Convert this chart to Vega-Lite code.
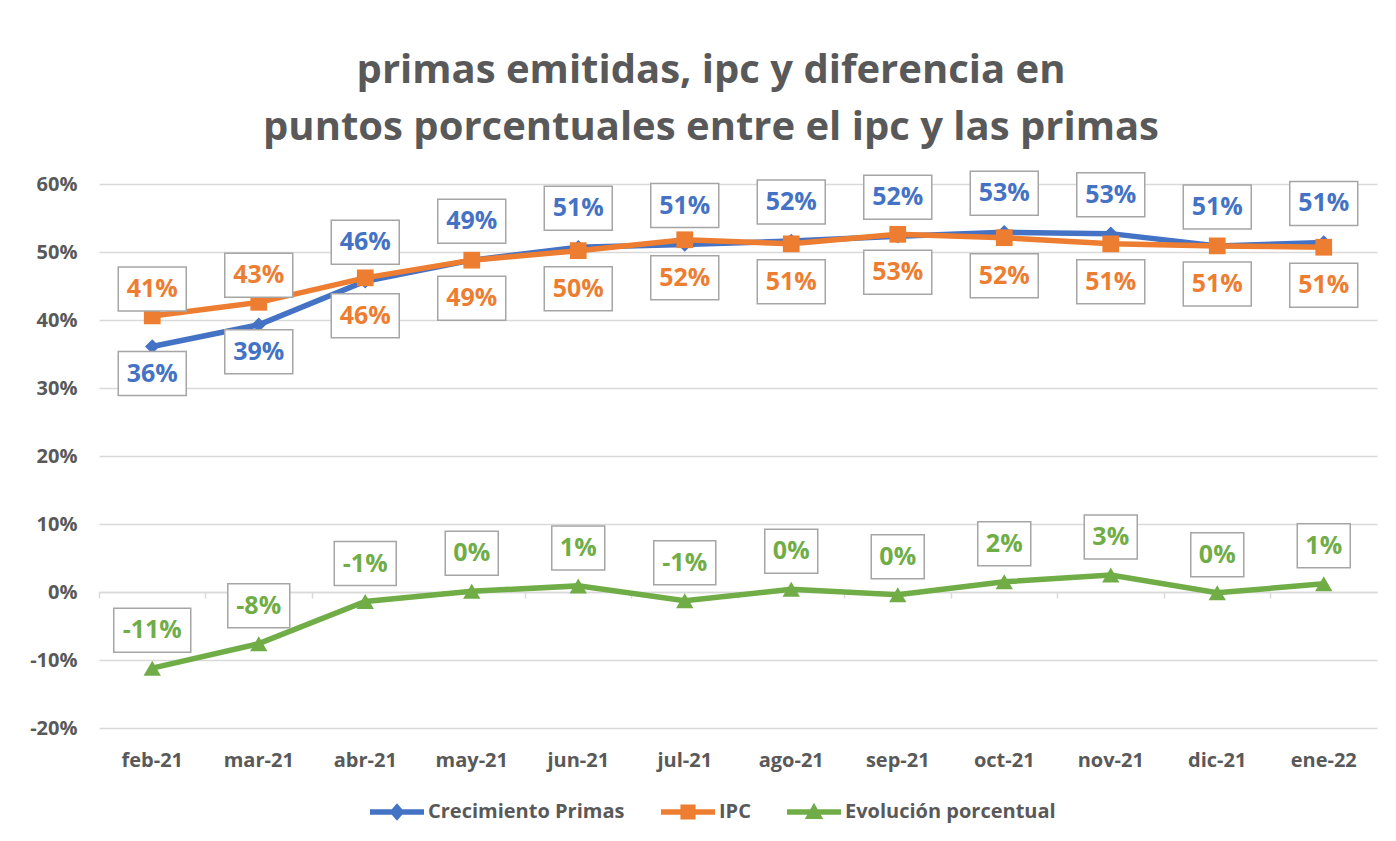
{
  "$schema": "https://vega.github.io/schema/vega-lite/v6.json",
  "width": 1278,
  "height": 544,
  "autosize": "none",
  "padding": {"left": 99, "top": 184, "right": 19, "bottom": 113},
  "background": "white",
  "config": {
    "view": {"stroke": null},
    "font": "Open Sans",
    "locale": {"number": {"decimal": ".", "thousands": ",", "grouping": [3], "currency": ["$", ""], "minus": "-"}}
  },
  "title": {
    "text": ["primas emitidas, ipc y diferencia en", "puntos porcentuales entre el ipc y las primas"],
    "font": "Open Sans",
    "fontSize": 40,
    "fontWeight": "bold",
    "color": "#595959",
    "anchor": "middle",
    "dx": -27,
    "lineHeight": 57,
    "offset": 20
  },
  "data": {
    "values": [
      {"mes": "feb-21", "Crecimiento Primas": 0.361, "IPC": 0.406, "Evolución porcentual": -0.112},
      {"mes": "mar-21", "Crecimiento Primas": 0.393, "IPC": 0.426, "Evolución porcentual": -0.076},
      {"mes": "abr-21", "Crecimiento Primas": 0.457, "IPC": 0.462, "Evolución porcentual": -0.014},
      {"mes": "may-21", "Crecimiento Primas": 0.488, "IPC": 0.488, "Evolución porcentual": 0.001},
      {"mes": "jun-21", "Crecimiento Primas": 0.507, "IPC": 0.502, "Evolución porcentual": 0.009},
      {"mes": "jul-21", "Crecimiento Primas": 0.511, "IPC": 0.518, "Evolución porcentual": -0.013},
      {"mes": "ago-21", "Crecimiento Primas": 0.516, "IPC": 0.512, "Evolución porcentual": 0.004},
      {"mes": "sep-21", "Crecimiento Primas": 0.523, "IPC": 0.526, "Evolución porcentual": -0.004},
      {"mes": "oct-21", "Crecimiento Primas": 0.529, "IPC": 0.521, "Evolución porcentual": 0.015},
      {"mes": "nov-21", "Crecimiento Primas": 0.527, "IPC": 0.512, "Evolución porcentual": 0.025},
      {"mes": "dic-21", "Crecimiento Primas": 0.509, "IPC": 0.509, "Evolución porcentual": -0.001},
      {"mes": "ene-22", "Crecimiento Primas": 0.514, "IPC": 0.507, "Evolución porcentual": 0.012}
    ]
  },
  "transform": [
    {"fold": ["Crecimiento Primas", "IPC", "Evolución porcentual"], "as": ["serie", "valor"]}
  ],
  "encoding": {
    "x": {
      "field": "mes",
      "type": "ordinal",
      "sort": ["feb-21", "mar-21", "abr-21", "may-21", "jun-21", "jul-21", "ago-21", "sep-21", "oct-21", "nov-21", "dic-21", "ene-22"],
      "scale": {"type": "band", "paddingInner": 0, "paddingOuter": 0},
      "axis": {
        "title": null,
        "labelAngle": 0,
        "labelFont": "Open Sans",
        "labelFontSize": 20,
        "labelFontWeight": "bold",
        "labelColor": "#595959",
        "grid": false,
        "domain": true,
        "domainColor": "#D9D9D9",
        "domainWidth": 1.5,
        "ticks": true,
        "tickColor": "#D9D9D9",
        "tickWidth": 1.5,
        "tickSize": 6,
        "bandPosition": 0,
        "offset": -136,
        "labelPadding": 152
      }
    },
    "y": {
      "field": "valor",
      "type": "quantitative",
      "scale": {"domain": [-0.2, 0.6], "nice": false},
      "axis": {
        "title": null,
        "values": [-0.2, -0.1, 0, 0.1, 0.2, 0.3, 0.4, 0.5, 0.6],
        "format": ".0%",
        "labelFont": "Open Sans",
        "labelFontSize": 20,
        "labelFontWeight": "bold",
        "labelColor": "#595959",
        "labelPadding": 22,
        "domain": false,
        "ticks": false,
        "gridColor": "#D9D9D9",
        "gridWidth": 1.5
      }
    }
  },
  "layer": [
    {
      "transform": [{"filter": "datum.serie == 'Crecimiento Primas'"}],
      "mark": {"type": "line", "strokeWidth": 5.5, "color": "#4472C4"}
    },
    {
      "transform": [{"filter": "datum.serie == 'Crecimiento Primas'"}],
      "mark": {"type": "point", "shape": "diamond", "filled": true, "opacity": 1, "size": 210, "color": "#4472C4"}
    },
    {
      "transform": [{"filter": "datum.serie == 'IPC'"}],
      "mark": {"type": "line", "strokeWidth": 5.5, "color": "#ED7D31"}
    },
    {
      "transform": [{"filter": "datum.serie == 'IPC'"}],
      "mark": {"type": "point", "shape": "square", "filled": true, "opacity": 1, "size": 280, "color": "#ED7D31"}
    },
    {
      "transform": [{"filter": "datum.serie == 'Evolución porcentual'"}],
      "mark": {"type": "line", "strokeWidth": 5.5, "color": "#70AD47"}
    },
    {
      "transform": [{"filter": "datum.serie == 'Evolución porcentual'"}],
      "mark": {"type": "point", "shape": "triangle-up", "filled": true, "opacity": 1, "size": 300, "color": "#70AD47"}
    },
    {
      "mark": {"type": "point", "filled": true, "opacity": 0},
      "encoding": {
        "color": {
          "field": "serie",
          "type": "nominal",
          "scale": {"domain": ["Crecimiento Primas", "IPC", "Evolución porcentual"], "range": ["#4472C4", "#ED7D31", "#70AD47"]},
          "legend": {
            "title": null,
            "orient": "none",
            "direction": "horizontal",
            "columns": 3,
            "legendX": 271,
            "legendY": 601,
            "symbolSize": 2916,
            "symbolOpacity": 1,
            "symbolStrokeWidth": 0,
            "labelFont": "Open Sans",
            "labelFontSize": 20,
            "labelFontWeight": "bold",
            "labelColor": "#595959",
            "labelOffset": 4,
            "columnPadding": 36,
            "labelLimit": 400,
            "encode": {"symbols": {"update": {"opacity": {"value": 1}, "fillOpacity": {"value": 1}}}}
          }
        },
        "shape": {
          "field": "serie",
          "type": "nominal",
          "scale": {
            "domain": ["Crecimiento Primas", "IPC", "Evolución porcentual"],
            "range": [
              "M-1,-0.1H1V0.1H-1Z M0,-0.32L0.28,0L0,0.32L-0.28,0Z",
              "M-1,-0.1H1V0.1H-1Z M-0.28,-0.28H0.28V0.28H-0.28Z",
              "M-1,-0.1H1V0.1H-1Z M0,-0.34L0.34,0.26H-0.34Z"
            ]
          },
          "legend": {
            "title": null,
            "orient": "none",
            "direction": "horizontal",
            "columns": 3,
            "legendX": 271,
            "legendY": 601,
            "symbolSize": 2916,
            "symbolOpacity": 1,
            "symbolStrokeWidth": 0,
            "labelFont": "Open Sans",
            "labelFontSize": 20,
            "labelFontWeight": "bold",
            "labelColor": "#595959",
            "labelOffset": 4,
            "columnPadding": 36,
            "labelLimit": 400,
            "encode": {"symbols": {"update": {"opacity": {"value": 1}, "fillOpacity": {"value": 1}}}}
          }
        }
      }
    },
    {
      "mark": {
        "type": "point",
        "filled": true,
        "fill": "white",
        "stroke": "#A5A5A5",
        "strokeWidth": 1.5,
        "opacity": 1,
        "size": 4,
        "shape": {"expr": "'M-' + (length(format(datum.valor,'.0%')) == 2 ? 26.5 : length(format(datum.valor,'.0%')) == 4 ? 38.5 : (datum.valor < 0 ? 31 : 34)) + ',-22H' + (length(format(datum.valor,'.0%')) == 2 ? 26.5 : length(format(datum.valor,'.0%')) == 4 ? 38.5 : (datum.valor < 0 ? 31 : 34)) + 'V22H-' + (length(format(datum.valor,'.0%')) == 2 ? 26.5 : length(format(datum.valor,'.0%')) == 4 ? 38.5 : (datum.valor < 0 ? 31 : 34)) + 'Z'"},
        "yOffset": {"expr": "datum.serie == 'Crecimiento Primas' ? (datum['Crecimiento Primas'] > 0.44 ? -39 : 27) : datum.serie == 'IPC' ? (datum['Crecimiento Primas'] > 0.44 ? 38 : -27) : -38"}
      }
    },
    {
      "mark": {
        "type": "text",
        "font": "Open Sans",
        "fontSize": 25,
        "fontWeight": "bold",
        "align": "center",
        "baseline": "middle",
        "yOffset": {"expr": "datum.serie == 'Crecimiento Primas' ? (datum['Crecimiento Primas'] > 0.44 ? -39 : 27) : datum.serie == 'IPC' ? (datum['Crecimiento Primas'] > 0.44 ? 38 : -27) : -38"}
      },
      "encoding": {
        "text": {"field": "valor", "type": "quantitative", "format": ".0%"},
        "fill": {
          "field": "serie",
          "type": "nominal",
          "scale": {"domain": ["Crecimiento Primas", "IPC", "Evolución porcentual"], "range": ["#4472C4", "#ED7D31", "#70AD47"]},
          "legend": null
        }
      }
    }
  ]
}
